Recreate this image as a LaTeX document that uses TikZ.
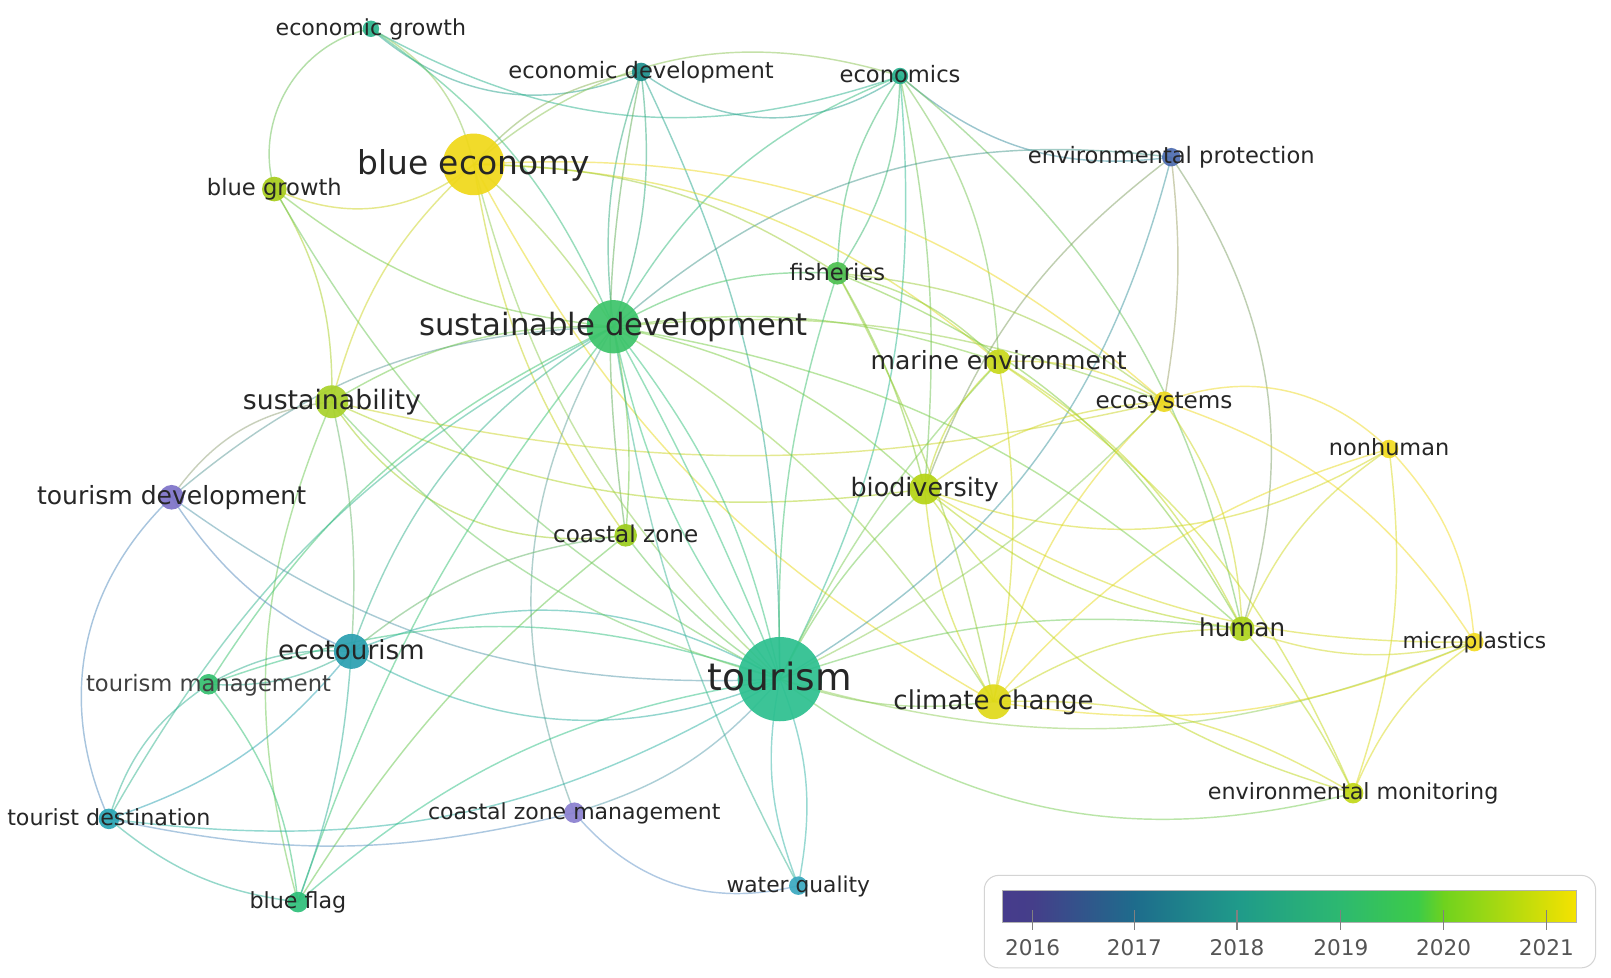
\documentclass[tikz,border=0pt]{standalone}
\usepackage{fontspec}
\setmainfont{DejaVu Sans}
\usetikzlibrary{backgrounds}
\definecolor{cEG}{HTML}{2DB58D}
\definecolor{cED}{HTML}{1E8F8C}
\definecolor{cECS}{HTML}{26B08E}
\definecolor{cBE}{HTML}{F0D818}
\definecolor{cBG}{HTML}{A8CC1C}
\definecolor{cEP}{HTML}{4D6CB0}
\definecolor{cF}{HTML}{4CC050}
\definecolor{cSD}{HTML}{3CC46A}
\definecolor{cME}{HTML}{C8D81A}
\definecolor{cS}{HTML}{A9D22A}
\definecolor{cECY}{HTML}{ECD820}
\definecolor{cNH}{HTML}{F2DC20}
\definecolor{cTDV}{HTML}{7D73C8}
\definecolor{cBD}{HTML}{B6D414}
\definecolor{cCZ}{HTML}{9CCC1C}
\definecolor{cECO}{HTML}{2A9FB0}
\definecolor{cH}{HTML}{AED41E}
\definecolor{cMP}{HTML}{F4DC22}
\definecolor{cTM}{HTML}{35C06F}
\definecolor{cT}{HTML}{2CC08F}
\definecolor{cCC}{HTML}{E0DA18}
\definecolor{cEM}{HTML}{C2D818}
\definecolor{cTD}{HTML}{2AA5B5}
\definecolor{cCZM}{HTML}{8A80D0}
\definecolor{cWQ}{HTML}{3AA9C0}
\definecolor{cBF}{HTML}{2EC07A}
\definecolor{labtext}{HTML}{262626}
\definecolor{labsoft}{HTML}{404040}
\definecolor{legframe}{HTML}{D4D4D4}
\definecolor{legtext}{HTML}{555555}
\definecolor{g0}{HTML}{453E8A}
\definecolor{g1}{HTML}{1E6C8C}
\definecolor{g2}{HTML}{1F9A8A}
\definecolor{g3}{HTML}{2DB970}
\definecolor{g4}{HTML}{3DCB48}
\definecolor{g5}{HTML}{6FD21E}
\definecolor{g6}{HTML}{F5E200}
\definecolor{gs}{HTML}{463C8C}
\tikzset{
  dot/.style={circle, inner sep=0pt, draw=none, fill opacity=0.92},
  lab/.style={inner sep=0pt, text=labtext, anchor=base},
  edge/.style={line width=1.4pt, opacity=0.5},
}
% #1 name, #2 x, #3 y, #4 radius, #5 font size, #6 text
\newcommand{\kw}[6]{%
  \node[dot, fill=c#1, minimum size=2*#4 pt] (#1) at (#2,#3) {};
  \node[lab, font=\fontsize{#5}{#5}\selectfont] (#1-l) at ([yshift=-0.3*#5 pt]#1.center) {#6};
}
% [#1 bend] #2 from, #3 to
\newcommand{\lnk}[3][10]{%
  \pgfmathsetmacro{\bnd}{1.6*#1}%
  \draw[edge, draw={c#2!50!c#3}] (#2.center) to[bend left=\bnd] (#3.center);
}
\begin{document}
\begin{tikzpicture}[x=1pt,y=-1pt]
\useasboundingbox (0,0) rectangle (1568,951);
\begin{scope}[on background layer]
\fill[white] (0,0) rectangle (1568,951);
\end{scope}
% keywords
\kw{EG}{361}{28}{8}{21.5}{economic growth}
\kw{ED}{624}{70}{9}{22}{economic development}
\kw{ECS}{876}{74}{8}{22}{economics}
\kw{BG}{267}{184}{12}{22}{blue growth}
\kw{EP}{1140}{153}{9}{22}{environmental protection}
\kw{F}{815}{266}{11}{22}{fisheries}
\kw{ME}{972}{352}{12}{24.4}{marine environment}
\kw{ECY}{1133}{391}{10}{22.5}{ecosystems}
\kw{NH}{1352}{437}{9}{21.8}{nonhuman}
\kw{TDV}{167}{484}{12}{24.4}{tourism development}
\kw{BD}{900}{476}{15}{24.7}{biodiversity}
\kw{CZ}{609}{521}{11}{22.5}{coastal zone}
\kw{H}{1209}{612}{12}{24}{human}
\kw{MP}{1435}{625}{9}{21.2}{microplastics}
\node[dot, fill=cTM, minimum size=20pt] (TM) at (203,666) {};
\node[lab, text=labsoft, font=\fontsize{22}{22}\selectfont] (TM-l) at ([yshift=-6.6pt]TM.center) {tourism management};
\kw{CC}{967}{683}{17}{25.3}{climate change}
\kw{EM}{1317}{772}{10}{21.7}{environmental monitoring}
\kw{TD}{106}{797}{10}{21.6}{tourist destination}
\kw{CZM}{559}{791}{10}{21.4}{coastal zone management}
\kw{WQ}{777}{862}{9}{21.2}{water quality}
\kw{BF}{290}{878}{10}{21.6}{blue flag}
\kw{S}{323}{391}{16}{26}{sustainability}
\kw{ECO}{342}{634}{17}{25.5}{ecotourism}
\kw{SD}{597}{318}{26}{29.9}{sustainable development}
\kw{BE}{461}{160}{30}{32}{blue economy}
\kw{T}{759}{661}{41}{36.6}{tourism}
% links
\begin{scope}[on background layer]
\lnk[-30]{EG}{BG}
\lnk[15]{EG}{BE}
\lnk[-20]{EG}{ED}
\lnk[-15]{EG}{ECS}
\lnk[10]{EG}{SD}
\lnk[-22]{ED}{ECS}
\lnk[18]{BE}{ECS}
\lnk[8]{ED}{SD}
\lnk[-8]{ED}{SD}
\lnk[8]{ED}{T}
\lnk[-12]{ED}{BE}
\lnk[-6]{ED}{CZ}
\lnk[-12]{ECS}{SD}
\lnk[-10]{ECS}{F}
\lnk[10]{ECS}{F}
\lnk[10]{ECS}{T}
\lnk[5]{ECS}{BD}
\lnk[10]{ECS}{ME}
\lnk[-15]{ECS}{EP}
\lnk[12]{ECS}{H}
\lnk[15]{SD}{EP}
\lnk[15]{TDV}{S}
\lnk[12]{TDV}{SD}
\lnk[-20]{BG}{BE}
\lnk[-10]{BE}{S}
\lnk[5]{BE}{SD}
\lnk[-10]{BE}{T}
\lnk[-8]{BE}{CZ}
\lnk[14]{BE}{ECY}
\lnk[12]{BE}{ME}
\lnk[-10]{BE}{CC}
\lnk[10]{BE}{F}
\lnk[10]{BG}{S}
\lnk[-10]{BG}{SD}
\lnk[-10]{BG}{T}
\lnk[-12]{S}{BF}
\lnk[10]{S}{SD}
\lnk[-10]{S}{BD}
\lnk[-20]{S}{CZ}
\lnk[-8]{S}{ECY}
\lnk[8]{SD}{T}
\lnk[-8]{SD}{T}
\lnk[2]{SD}{T}
\lnk[10]{SD}{F}
\lnk[5]{SD}{CZ}
\lnk[-12]{SD}{ECO}
\lnk[-10]{SD}{TM}
\lnk[-6]{SD}{BF}
\lnk[-10]{SD}{TD}
\lnk[10]{SD}{BD}
\lnk[8]{SD}{ME}
\lnk[8]{SD}{CC}
\lnk[8]{SD}{ECY}
\lnk[10]{SD}{H}
\lnk[-6]{SD}{WQ}
\lnk[16]{CZM}{SD}
\lnk[-10]{TDV}{ECO}
\lnk[-22]{TDV}{TD}
\lnk[-12]{TDV}{T}
\lnk[10]{ECO}{TM}
\lnk[-10]{ECO}{TM}
\lnk[10]{ECO}{TD}
\lnk[5]{ECO}{BF}
\lnk[16]{ECO}{T}
\lnk[-16]{ECO}{T}
\lnk[10]{ECO}{CZ}
\lnk[5]{S}{ECO}
\lnk[-12]{TM}{TD}
\lnk[10]{TM}{BF}
\lnk[12]{TM}{T}
\lnk[-10]{TD}{BF}
\lnk[-12]{TD}{T}
\lnk[10]{BF}{T}
\lnk[6]{BF}{CZ}
\lnk[-8]{TD}{CZM}
\lnk[-10]{CZM}{T}
\lnk[-20]{CZM}{WQ}
\lnk[10]{WQ}{T}
\lnk[-10]{WQ}{T}
\lnk[-8]{T}{CC}
\lnk[8]{T}{H}
\lnk[-16]{T}{EM}
\lnk[-12]{T}{MP}
\lnk[6]{T}{BD}
\lnk[5]{T}{ME}
\lnk[6]{T}{F}
\lnk[-14]{T}{EP}
\lnk[-6]{T}{ECY}
\lnk[6]{T}{CZ}
\lnk[10]{T}{S}
\lnk[5]{EP}{ECY}
\lnk[16]{EP}{H}
\lnk[-10]{EP}{BD}
\lnk[5]{F}{BD}
\lnk[10]{F}{ME}
\lnk[5]{F}{CC}
\lnk[12]{F}{H}
\lnk[10]{F}{ECY}
\lnk[10]{ME}{ECY}
\lnk[-10]{ME}{BD}
\lnk[6]{ME}{CC}
\lnk[10]{ME}{H}
\lnk[10]{ME}{EM}
\lnk[-10]{ECY}{BD}
\lnk[-10]{ECY}{CC}
\lnk[10]{ECY}{H}
\lnk[20]{ECY}{NH}
\lnk[12]{ECY}{MP}
\lnk[16]{NH}{BD}
\lnk[-10]{NH}{H}
\lnk[12]{NH}{MP}
\lnk[8]{NH}{EM}
\lnk[-10]{NH}{CC}
\lnk[-8]{BD}{CC}
\lnk[-10]{BD}{H}
\lnk[-10]{BD}{MP}
\lnk[-12]{BD}{EM}
\lnk[-10]{H}{CC}
\lnk[-10]{H}{MP}
\lnk[5]{H}{EM}
\lnk[-10]{MP}{EM}
\lnk[10]{MP}{CC}
\lnk[-10]{EM}{CC}
\end{scope}
% legend
\node[draw=legframe, line width=1pt, rounded corners=14pt, minimum width=595pt, minimum height=90pt, inner sep=0pt] (leg) at (1255.5,897) {};
\shade[left color=gs, right color=g0] (976,867) rectangle (1005.5,898);
\shade[left color=g0, right color=g1] (1005,867) rectangle (1104.5,898);
\shade[left color=g1, right color=g2] (1104,867) rectangle (1204.5,898);
\shade[left color=g2, right color=g3] (1204,867) rectangle (1305.5,898);
\shade[left color=g3, right color=g4] (1305,867) rectangle (1380.5,898);
\shade[left color=g4, right color=g5] (1380,867) rectangle (1405.5,898);
\shade[left color=g5, right color=g6] (1405,867) rectangle (1534,898);
\draw[gray!60, line width=0.6pt] (976,867) rectangle (1534,898);
\foreach \yr/\xx in {2016/1005,2017/1104,2018/1204,2019/1305,2020/1405,2021/1505}{
  \draw[gray, line width=1.2pt] (\xx,886) -- (\xx,905);
  \node[lab, text=legtext, anchor=base, font=\fontsize{21}{21}\selectfont] (y\yr) at (\xx,930) {\yr};
}
\end{tikzpicture}
\end{document}
